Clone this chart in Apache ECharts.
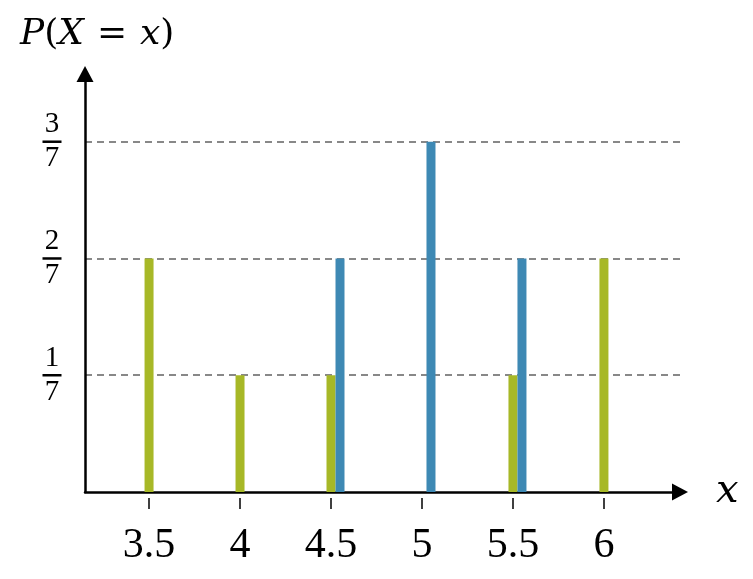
<!DOCTYPE html>
<html>
<head>
<meta charset="utf-8">
<script src="https://cdn.jsdelivr.net/npm/echarts@6/dist/echarts.min.js"></script>
<style>
  html, body { margin: 0; padding: 0; background: #fff; }
  #chart { width: 753px; height: 579px; }
</style>
</head>
<body>
<div id="chart"></div>
<script>
// --- data: P(X = x), values counted in sevenths ---
const xValues       = [3.5, 4, 4.5, 5, 5.5, 6]
const greenSevenths = [2, 1, 1, null, 1, 2]
const blueSevenths  = [null, null, 2, 3, 2, null]
const yTickValues   = [1, 2, 3]

const pairs = arr => xValues.map((x, i) => [x, arr[i]]).filter(p => p[1] != null)

const X_MIN = 3.148, X_MAX = 6.418
const Y_MAX = 3.58
const serif = '"Liberation Serif", "DejaVu Serif", serif'
const mathFont = '"DejaVu Serif", serif'

const chart = echarts.init(document.getElementById('chart'))
chart.setOption({
  animation: false,
  title: {
    text: '{i|P}{r|(}{i|X}{e|=}{i|x}{r|)}',
    left: 15, top: 12,
    textStyle: {
      rich: {
        i: { fontFamily: mathFont, fontStyle: 'italic', fontWeight: 'normal', fontSize: 36, color: '#000' },
        r: { fontFamily: mathFont, fontWeight: 'normal', fontSize: 36, color: '#000' },
        e: { fontFamily: mathFont, fontWeight: 'normal', fontSize: 36, color: '#000', padding: [0, 13] }
      }
    }
  },
  grid: { left: 85, right: 73, top: 74, bottom: 87, outerBoundsMode: 'none' },
  xAxis: [{
    type: 'value', min: X_MIN, max: X_MAX,
    name: 'x', nameLocation: 'end', nameGap: 36,
    nameTextStyle: { fontFamily: mathFont, fontStyle: 'italic', fontSize: 40, color: '#000', padding: [0, 0, 6, 0] },
    axisLine: { show: true, symbol: ['none', 'triangle'], symbolSize: [17, 16],
      lineStyle: { color: '#000', width: 2.5 } },
    axisTick: { show: false },
    splitLine: { show: false },
    axisLabel: { customValues: xValues, margin: 33, fontFamily: serif, fontSize: 42, color: '#000',
      formatter: v => String(v) }
  }, {
    // ticks sit a little below the axis line
    type: 'value', min: X_MIN, max: X_MAX, position: 'bottom', offset: 6,
    axisLine: { show: false },
    axisTick: { show: true, customValues: xValues, length: 11, lineStyle: { color: '#000', width: 1.5 } },
    axisLabel: { show: false },
    splitLine: { show: false }
  }],
  yAxis: {
    type: 'value', min: 0, max: Y_MAX, interval: 1,
    axisLine: { show: true, symbol: ['none', 'triangle'], symbolSize: [17, 16],
      lineStyle: { color: '#000', width: 2.5 } },
    axisTick: { show: false },
    splitLine: { show: true, showMinLine: false, showMaxLine: false,
      lineStyle: { color: '#888', width: 2, type: [7, 5] } },
    axisLabel: {
      customValues: yTickValues,
      align: 'center', margin: 33,
      formatter: v => `{n|${v}}\n{b|}\n{d|7}`,
      rich: {
        n: { fontFamily: serif, fontSize: 29, lineHeight: 28, color: '#000', align: 'center' },
        b: { width: 19, height: 2.5, lineHeight: 6, backgroundColor: '#000', align: 'center' },
        d: { fontFamily: serif, fontSize: 29, lineHeight: 28, color: '#000', align: 'center' }
      }
    }
  },
  series: [
    // empty column so green lands on the tick and blue just right of it
    { type: 'bar', data: [], barWidth: 9, barGap: 0, silent: true },
    { type: 'bar', name: 'green', data: pairs(greenSevenths), barWidth: 9, barGap: 0,
      itemStyle: { color: '#a7b827' } },
    { type: 'bar', name: 'blue', data: pairs(blueSevenths), barWidth: 9, barGap: 0,
      itemStyle: { color: '#3e89b4' } }
  ]
})
</script>
</body>
</html>
